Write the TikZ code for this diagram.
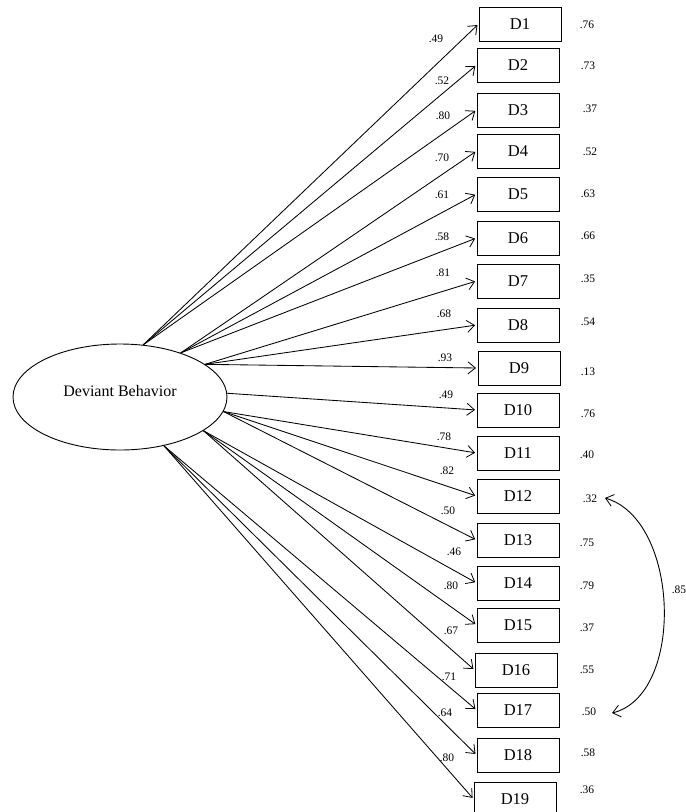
\documentclass[tikz,border=0pt]{standalone}
\usepackage{fontspec}
\setmainfont{Liberation Serif}
\usetikzlibrary{shapes.geometric,arrows.meta}
\begin{document}
\begin{tikzpicture}[x=1pt,y=-1pt,
  indicator/.style={draw, line width=0.9pt, minimum width=82pt, minimum height=34pt,
    inner sep=0pt, font=\fontsize{16.5}{18}\selectfont},
  latent/.style={draw, ellipse, line width=0.9pt, minimum width=214pt, minimum height=106pt,
    inner sep=0pt, text depth=12pt, font=\fontsize{16}{18}\selectfont},
  barb/.tip={Straight Barb[length=7.5pt,width=12pt,line width=0.8pt]},
  loading/.style={line width=0.85pt, -barb, shorten >=1.5pt},
  coef/.style={font=\fontsize{11.5}{12}\selectfont, inner sep=0pt},
  covar/.style={line width=0.9pt, barb-barb},
]
\useasboundingbox (0,0) rectangle (686,812);

% latent factor
\node[latent] (DB) at (120,397) {Deviant Behavior};

% observed indicators
\node[indicator] (D1)  at (520,24)  {D1};
\node[indicator] (D2)  at (518,65)  {D2};
\node[indicator] (D3)  at (518,110) {D3};
\node[indicator] (D4)  at (518,151) {D4};
\node[indicator] (D5)  at (518,194) {D5};
\node[indicator] (D6)  at (518,238) {D6};
\node[indicator] (D7)  at (518,281) {D7};
\node[indicator] (D8)  at (518,325) {D8};
\node[indicator] (D9)  at (519,368) {D9};
\node[indicator] (D10) at (518,410) {D10};
\node[indicator] (D11) at (518,453) {D11};
\node[indicator] (D12) at (518,496) {D12};
\node[indicator] (D13) at (518,540) {D13};
\node[indicator] (D14) at (518,583) {D14};
\node[indicator] (D15) at (518,625) {D15};
\node[indicator] (D16) at (516,670) {D16};
\node[indicator] (D17) at (518,710) {D17};
\node[indicator] (D18) at (518,755) {D18};
\node[indicator] (D19) at (515,799) {D19};

% factor loadings
\foreach \t in {D1,D2,D3}     {\draw[loading] (DB.66.5) -- (\t.west);}
\foreach \t in {D4,D5,D6}     {\draw[loading] (DB.36.3) -- (\t.west);}
\foreach \t in {D7,D8,D9}     {\draw[loading] (DB.21) -- (\t.west);}
\draw[loading] (DB.2) -- (D10.west);
\foreach \t in {D11,D12,D13}  {\draw[loading] (DB.-8.8) -- (\t.west);}
\foreach \t in {D14,D15,D16}  {\draw[loading] (DB.-22.9) -- (\t.west);}
\foreach \t in {D17,D18,D19}  {\draw[loading] (DB.-48) -- (\t.west);}

% loading values
\node[coef] (l1)  at (436,39)  {.49};
\node[coef] (l2)  at (442,81)  {.52};
\node[coef] (l3)  at (443,116) {.80};
\node[coef] (l4)  at (442,158) {.70};
\node[coef] (l5)  at (442,195) {.61};
\node[coef] (l6)  at (442,237) {.58};
\node[coef] (l7)  at (443,273) {.81};
\node[coef] (l8)  at (444,314) {.68};
\node[coef] (l9)  at (445,358) {.93};
\node[coef] (l10) at (446,395) {.49};
\node[coef] (l11) at (444,437) {.78};
\node[coef] (l12) at (447,471) {.82};
\node[coef] (l13) at (448,511) {.50};
\node[coef] (l14) at (454,552) {.46};
\node[coef] (l15) at (451,586) {.80};
\node[coef] (l16) at (451,631) {.67};
\node[coef] (l17) at (449,677) {.71};
\node[coef] (l18) at (445,713) {.64};
\node[coef] (l19) at (447,758) {.80};

% squared multiple correlations
\node[coef] (e1)  at (587,25)  {.76};
\node[coef] (e2)  at (588,66)  {.73};
\node[coef] (e3)  at (590,109) {.37};
\node[coef] (e4)  at (590,152) {.52};
\node[coef] (e5)  at (588,194) {.63};
\node[coef] (e6)  at (588,236) {.66};
\node[coef] (e7)  at (588,279) {.35};
\node[coef] (e8)  at (588,322) {.54};
\node[coef] (e9)  at (588,372) {.13};
\node[coef] (e10) at (588,414) {.76};
\node[coef] (e11) at (587,455) {.40};
\node[coef] (e12) at (590,499) {.32};
\node[coef] (e13) at (587,543) {.75};
\node[coef] (e14) at (587,586) {.79};
\node[coef] (e15) at (587,628) {.37};
\node[coef] (e16) at (587,670) {.55};
\node[coef] (e17) at (589,712) {.50};
\node[coef] (e18) at (588,753) {.58};
\node[coef] (e19) at (587,790) {.36};

% error covariance between D12 and D17
\coordinate (c12) at (605,498);
\coordinate (c17) at (612,713);
\draw[covar] (c12) .. controls (680,520) and (685,695) .. (c17);
\node[coef] (r) at (679,590) {.85};
\end{tikzpicture}
\end{document}
